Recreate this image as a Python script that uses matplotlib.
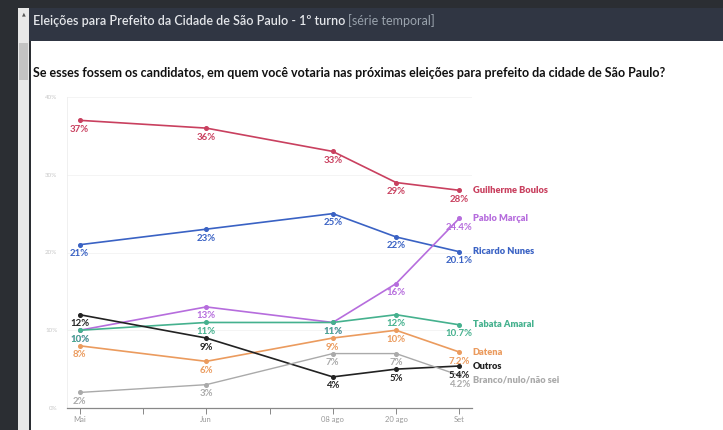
import matplotlib
matplotlib.use("Agg")
import matplotlib.pyplot as plt
from matplotlib.patches import Rectangle

plt.rcParams['font.family'] = ['Lato', 'DejaVu Sans']

W, H = 723, 430

# data
periods = ["Mai", "Jun", "08 ago", "20 ago", "Set"]
period_pos = [0, 2, 4, 5, 6]
boulos = [37, 36, 33, 29, 28]
nunes = [21, 23, 25, 22, 20.1]
marcal = [10, 13, 11, 16, 24.4]
tabata = [10, 11, 11, 12, 10.7]
datena = [8, 6, 9, 10, 7.2]
outros = [12, 9, 4, 5, 5.4]
branco = [2, 3, 7, 7, 4.2]

series = [
    ("Guilherme Boulos", boulos, "#c9405f"),
    ("Ricardo Nunes", nunes, "#3a62c4"),
    ("Pablo Marçal", marcal, "#b66ddd"),
    ("Tabata Amaral", tabata, "#45b18e"),
    ("Datena", datena, "#eb9b5e"),
    ("Outros", outros, "#222222"),
    ("Branco/nulo/não sei", branco, "#aaaaaa"),
]


def fmt(v):
    return f"{v:g}%"


def px_rect(x0, y0, x1, y1, color):
    # pixel coords, y measured from top
    r = Rectangle((x0 / W, 1 - y1 / H), (x1 - x0) / W, (y1 - y0) / H,
                  transform=fig.transFigure, facecolor=color,
                  edgecolor="none", zorder=-10)
    fig.patches.append(r)


fig = plt.figure(figsize=(W / 100, H / 100), dpi=100)
fig.patch.set_facecolor("white")

# page chrome
px_rect(0, 0, W, H, "#2b2e33")
px_rect(29, 8, W, 41, "#303643")
px_rect(31, 41, W, H, "#ffffff")
px_rect(18, 8, 29, H, "#e8e8e8")
px_rect(19, 43, 28, 80, "#c3c3c3")
fig.text(23.5 / W, 1 - 14 / H, "▲", fontsize=3.5, color="#555555",
         ha="center", va="center", family="DejaVu Sans")

t = fig.text(33 / W, 1 - 21 / H,
             "Eleições para Prefeito da Cidade de São Paulo - 1º turno",
             fontsize=9.0, fontweight="semibold", color="#e4e6ea",
             ha="left", va="center")
fig.canvas.draw()
bb = t.get_window_extent()
fig.text((bb.x1 + 3) / W, 1 - 21 / H, "[série temporal]", fontsize=9.0,
         color="#9aa3ad", ha="left", va="center")

fig.text(33 / W, 1 - 73 / H,
         "Se esses fossem os candidatos, em quem você votaria nas próximas "
         "eleições para prefeito da cidade de São Paulo?",
         fontsize=9.0, fontweight="bold", color="#111111",
         ha="left", va="center")

# plot area
ax = fig.add_axes([67 / W, 22 / H, 405 / W, 311 / H])
ax.set_facecolor("none")
ax.set_xlim(-0.2, 6.2)
ax.set_ylim(0, 40)

for name, vals, col in series:
    lw = 1.0 if name.startswith("Branco") else 1.2
    ax.plot(period_pos, vals, color=col, lw=lw, marker="o", ms=2.6,
            zorder=3)
    for xp, v in zip(period_pos, vals):
        ax.annotate(fmt(v), (xp, v), xytext=(0, -6.5),
                    textcoords="offset points", ha="center", va="center",
                    fontsize=6.9, fontweight="bold", color=col, zorder=4)
    dy = -3 if name.startswith("Branco") else 0
    ax.annotate(name, (period_pos[-1], vals[-1]), xytext=(9.5, dy),
                textcoords="offset points", ha="left", va="center",
                fontsize=6.7, fontweight="heavy", color=col,
                annotation_clip=False)

ax.set_yticks([0, 10, 20, 30, 40])
ax.set_yticklabels(["0%", "10%", "20%", "30%", "40%"])
ax.set_xticks(period_pos)
ax.set_xticklabels(periods)
ax.set_xticks([1, 3], minor=True)
ax.grid(axis="y", color="#f2f2f2", lw=0.6)
ax.tick_params(axis="y", length=0, labelsize=4.5, labelcolor="#c8c8c8",
               pad=7)
ax.tick_params(axis="x", which="both", length=4, width=0.7,
               color="#888888", labelsize=5.5, labelcolor="#999999", pad=2)
for s in ["top", "right"]:
    ax.spines[s].set_visible(False)
ax.spines["left"].set_color("#eeeeee")
ax.spines["left"].set_linewidth(0.6)
ax.spines["bottom"].set_color("#888888")
ax.spines["bottom"].set_linewidth(0.9)

fig.savefig("out.png", dpi=100)
